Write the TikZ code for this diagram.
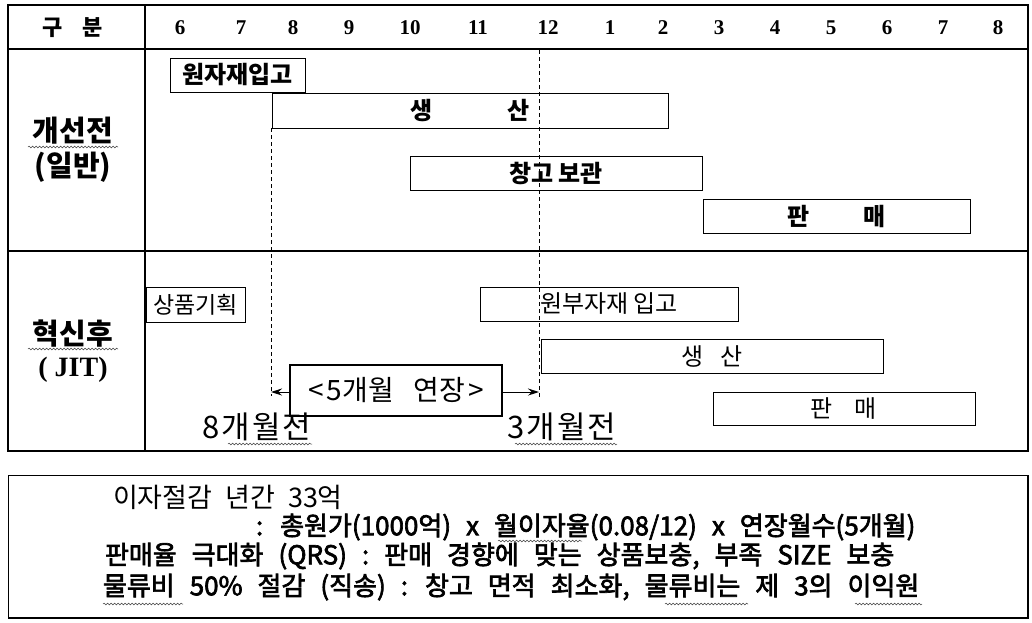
\documentclass[tikz,border=0pt]{standalone}
\usepackage{fontspec}
\setmainfont{Liberation Serif}
\newfontfamily\kr{Noto Sans CJK KR}
\newfontfamily\krm{Noto Sans CJK KR}[FakeBold=2.5]
\newfontfamily\krw{Noto Sans CJK KR}[LetterSpace=6]
\newcommand\wordgap[1]{\spaceskip=#1\relax}
\usetikzlibrary{arrows.meta,decorations.pathmorphing}
\begin{document}
\begin{tikzpicture}[x=1pt,y=-1pt,
  every node/.style={inner sep=0pt, outer sep=0pt},
  bar/.style={draw, line width=1pt, fill=white},
  barb/.style={bar, font=\kr\bfseries\fontsize{24}{28}\selectfont},
  barr/.style={bar, font=\kr\fontsize{24}{28}\selectfont},
  frame/.style={line width=2pt},
  guide/.style={line width=0.8pt, dash pattern=on 4pt off 3pt},
  squig/.style={decorate, decoration={snake, amplitude=0.9pt, segment length=3.5pt}, line width=0.5pt, black!75},
  num/.style={font=\rmfamily\bfseries\fontsize{21}{24}\selectfont},
  side/.style={font=\kr\bfseries\fontsize{29}{32}\selectfont},
  before/.style={font=\krw\fontsize{31}{34}\selectfont},
  note/.style={anchor=west, font=\krm\fontsize{26}{30}\selectfont\wordgap{15pt}}]
\useasboundingbox (0,0) rectangle (1032,622);
\fill[white] (0,0) rectangle (1032,622);

% table frame
\draw[frame] (8,5) rectangle (1028,451);
\draw[line width=2.5pt] (8,49) -- (1028,49);
\draw[line width=2.5pt] (8,251) -- (1028,251);
\draw[frame] (145,5) -- (145,451);

% header
\node[font=\kr\bfseries\fontsize{22}{26}\selectfont] (hgubun) at (73,28) {구\hspace{20pt}분};
\foreach \n/\x/\t in {m6/180/6, m7/241/7, m8/293/8, m9/349/9, m10/410/10, m11/478/11, m12/548/12, m1/610/1, m2/663/2, m3/719/3, m4/775/4, m5/831/5, n6/887/6, n7/943/7, n8/998/8}
  \node[num] (\n) at (\x,28) {\t};

% side labels
\node[side] (before1) at (73,131) {개선전};
\node[side] (before2) at (73,167) {(일반)};
\node[side] (after1) at (73,334) {혁신후};
\node[font=\rmfamily\bfseries\fontsize{28}{32}\selectfont] (after2) at (73,370) {( JIT)};

% guide lines
\coordinate (g1top) at (271,128);
\coordinate (g1bot) at (271,396);
\coordinate (g2top) at (539,50);
\coordinate (g2bot) at (539,398);
\draw[guide] (g1top) -- (g1bot);

% before bars
\node[barb, minimum width=135pt, minimum height=34pt] (b1) at (237.5,75) {원자재입고};
\node[barb, minimum width=396pt, minimum height=35pt] (b2) at (470,110.5) {생\hspace{74pt}산};
\node[barb, minimum width=292pt, minimum height=34pt] (b3) at (556,173) {창고 보관};
\node[barb, minimum width=267pt, minimum height=34pt] (b4) at (836.5,216) {판\hspace{53pt}매};

% after bars
\node[bar, font=\kr\fontsize{23}{27}\selectfont, minimum width=99pt, minimum height=35pt] (a1) at (195.5,304.5) {상품기획};
\node[barr, minimum width=258pt, minimum height=34pt] (a2) at (609,304) {원부자재 입고};
\node[barr, minimum width=342pt, minimum height=34pt] (a3) at (712,356) {생\hspace{17pt}산};
\node[barr, minimum width=262pt, minimum height=33pt] (a4) at (844,408.5) {판\hspace{22pt}매};
\draw[guide] (g2top) -- (g2bot);

% extension arrow
\coordinate (arrL) at (271,392);
\coordinate (arrR) at (539,392);
\draw[line width=1pt, {Stealth[length=11pt,width=7pt]}-{Stealth[length=11pt,width=7pt]}] (arrL) -- (arrR);
\node[draw, line width=1.2pt, fill=white, minimum width=212pt, minimum height=51pt, font=\kr\fontsize{28}{32}\selectfont] (ext) at (396,390.5) {<\hspace{3pt}5개월\hspace{20pt}연장\hspace{3pt}>};
\node[before] (eight) at (257,427) {8개월전};
\node[before] (three) at (562,427) {3개월전};

% spell-check squiggles
\draw[squig] (28,147) -- (118,147);
\draw[squig] (28,349) -- (118,349);
\draw[squig] (228,444) -- (312,444);
\draw[squig] (515,444) -- (617,444);

% bottom box
\draw[line width=1pt] (8,475) rectangle (1028,618);
\draw[line width=2.5pt] (1028,475) -- (1028,618) -- (8,618);
\node[note, font=\kr\fontsize{27}{30}\selectfont\wordgap{13pt}] (l1) at (113,497) {이자절감 년간 33억};
\node[note] (l2) at (256,527) {: 총원가(1000억) x 월이자율(0.08/12) x 연장월수(5개월)};
\node[note] (l3) at (105,556) {판매율 극대화 (QRS) : 판매 경향에 맞는 상품보충, 부족 SIZE 보충};
\node[note] (l4) at (103,587) {물류비 50\% 절감 (직송) : 창고 면적 최소화, 물류비는 제 3의 이익원};
\draw[squig] (498,541) -- (582,541);
\draw[squig] (103,604) -- (183,604);
\draw[squig] (665,604) -- (748,604);
\draw[squig] (855,604) -- (922,604);
\end{tikzpicture}
\end{document}
